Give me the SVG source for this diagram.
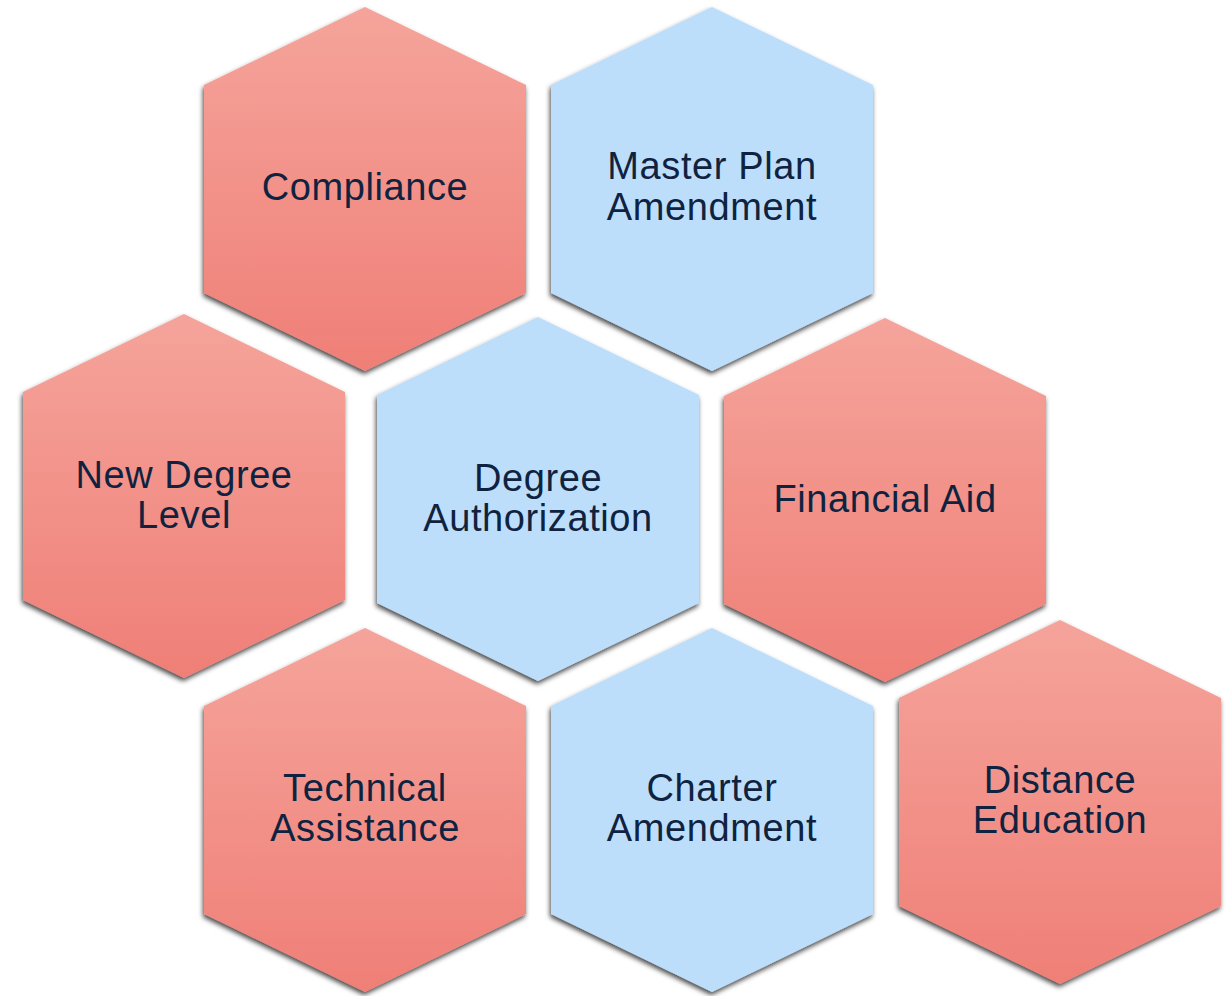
<svg xmlns="http://www.w3.org/2000/svg" width="1230" height="996" viewBox="0 0 1230 996">
<style>
.t{font-family:"Liberation Sans",Arial,sans-serif;font-size:38px;letter-spacing:0.6px;fill:#0F2340;text-anchor:middle}
.red{fill:url(#gr)}
.blue{fill:#BDDEFB}
</style>
<defs>
<linearGradient id="gr" x1="0" y1="0" x2="0" y2="1">
<stop offset="0" stop-color="#F5A49B"/>
<stop offset="1" stop-color="#EF7F77"/>
</linearGradient>
<filter id="sh" x="-10%" y="-10%" width="120%" height="120%">
<feDropShadow dx="-1" dy="3" stdDeviation="2.5" flood-color="#000" flood-opacity="0.72"/>
</filter>
<path id="hex" d="M0,0 L161,78 L161,286 L0,364 L-161,286 L-161,78 Z"/>
</defs>
<rect width="1230" height="996" fill="#fff"/>
<g id="compliance" transform="translate(365,7)">
<use href="#hex" class="red" filter="url(#sh)"/>
<text class="t" x="0" y="193">Compliance</text>
</g>
<g id="master-plan" transform="translate(712,7)">
<use href="#hex" class="blue" filter="url(#sh)"/>
<text class="t" x="0" y="172">Master Plan</text>
<text class="t" x="0" y="213">Amendment</text>
</g>
<g id="new-degree" transform="translate(184,314)">
<use href="#hex" class="red" filter="url(#sh)"/>
<text class="t" x="0" y="174">New Degree</text>
<text class="t" x="0" y="214">Level</text>
</g>
<g id="degree-auth" transform="translate(538,317)">
<use href="#hex" class="blue" filter="url(#sh)"/>
<text class="t" x="0" y="174">Degree</text>
<text class="t" x="0" y="214">Authorization</text>
</g>
<g id="financial-aid" transform="translate(885,318)">
<use href="#hex" class="red" filter="url(#sh)"/>
<text class="t" x="0" y="194">Financial Aid</text>
</g>
<g id="technical" transform="translate(365,628)">
<use href="#hex" class="red" filter="url(#sh)"/>
<text class="t" x="0" y="173">Technical</text>
<text class="t" x="0" y="213">Assistance</text>
</g>
<g id="charter" transform="translate(712,628)">
<use href="#hex" class="blue" filter="url(#sh)"/>
<text class="t" x="0" y="173">Charter</text>
<text class="t" x="0" y="213">Amendment</text>
</g>
<g id="distance" transform="translate(1060,620)">
<use href="#hex" class="red" filter="url(#sh)"/>
<text class="t" x="0" y="173">Distance</text>
<text class="t" x="0" y="213">Education</text>
</g>
<g id="connectors"></g>
</svg>
